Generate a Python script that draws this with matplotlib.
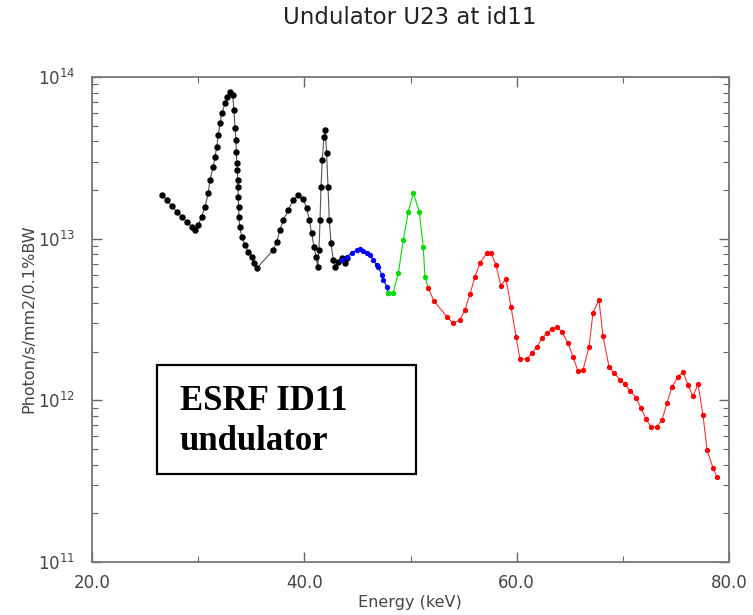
import matplotlib
matplotlib.use("Agg")
import matplotlib.pyplot as plt
from matplotlib.patches import Rectangle
from matplotlib.ticker import FixedLocator, LogLocator, NullFormatter

title = "Undulator U23 at id11"
xlabel = "Energy (keV)"
ylabel = "Photon/s/mm2/0.1%BW"
inset_lines = ["ESRF ID11", "undulator"]

# Energy (keV) and flux (units of 1e12 photon/s/mm2/0.1%BW)
black_e = [26.62, 27.04, 27.51, 27.98, 28.45, 28.92, 29.39, 29.70, 30.01, 30.33,
           30.64, 30.95, 31.11, 31.43, 31.59, 31.75, 31.90, 32.06, 32.22, 32.53,
           32.74, 33.00, 33.25, 33.37, 33.47, 33.56, 33.60, 33.63, 33.69, 33.72,
           33.75, 33.78, 33.81, 33.84, 33.90, 34.10, 34.41, 34.72, 35.04, 35.26,
           35.51, 37.08, 37.40, 37.71, 38.02, 38.49, 38.96, 39.43, 39.90, 40.22,
           40.47, 40.69, 40.91, 41.10, 41.26, 41.38, 41.48, 41.57, 41.69, 41.85,
           41.97, 42.10, 42.23, 42.35, 42.51, 42.73, 42.89, 43.20, 43.52, 43.83,
           44.04]
black_f = [18.62, 17.34, 15.92, 14.69, 13.68, 12.74, 11.86, 11.32, 12.16, 13.68,
           15.78, 19.10, 23.07, 27.86, 32.14, 37.07, 43.75, 51.76, 59.70, 68.71,
           75.51, 81.10, 77.45, 62.52, 48.19, 40.74, 34.51, 29.24, 26.61, 23.07,
           20.99, 18.20, 15.78, 13.68, 11.86, 10.28, 9.14, 8.32, 7.74, 7.05,
           6.56, 8.51, 9.57, 11.32, 13.06, 15.03, 17.34, 18.62, 17.54, 15.42,
           13.06, 10.79, 8.93, 7.74, 6.71, 8.51, 13.06, 20.99, 30.69, 42.76,
           46.99, 33.73, 20.99, 13.06, 9.38, 7.38, 6.71, 7.21, 7.57, 7.05,
           7.57]

blue_e = [43.52, 44.00, 44.45, 44.93, 45.24, 45.55, 45.87, 46.18, 46.50, 46.82,
          46.97, 47.29, 47.44, 47.76, 47.91]
blue_f = [7.38, 7.74, 8.13, 8.51, 8.59, 8.43, 8.18, 7.93, 7.38, 6.87,
          6.71, 5.97, 5.56, 5.05, 4.59]

green_e = [47.91, 48.38, 48.85, 49.32, 49.79, 50.26, 50.83, 51.20, 51.36, 51.68]
green_f = [4.59, 4.63, 6.11, 9.82, 14.69, 19.10, 14.69, 8.93, 5.82, 4.93]

red_e = [51.68, 52.21, 53.41, 54.00, 54.66, 55.13, 55.60, 56.07, 56.55, 57.20,
         57.58, 58.05, 58.52, 58.99, 59.47, 59.94, 60.31, 60.97, 61.44, 61.91,
         62.39, 62.86, 63.33, 63.80, 64.27, 64.83, 65.31, 65.78, 66.25, 66.81,
         67.19, 67.75, 68.13, 68.70, 69.17, 69.73, 70.20, 70.67, 71.24, 71.71,
         72.18, 72.65, 73.22, 73.69, 74.16, 74.63, 75.20, 75.67, 76.14, 76.61,
         77.08, 77.55, 77.93, 78.49, 78.87]
red_f = [4.93, 4.12, 3.30, 3.01, 3.14, 3.62, 4.55, 5.79, 7.08, 8.17,
         8.17, 6.87, 5.11, 5.64, 3.78, 2.47, 1.80, 1.80, 1.96, 2.14,
         2.43, 2.61, 2.77, 2.84, 2.65, 2.26, 1.85, 1.52, 1.54, 2.14,
         3.48, 4.18, 2.50, 1.61, 1.48, 1.34, 1.26, 1.14, 1.04, 0.897,
         0.767, 0.685, 0.685, 0.757, 0.964, 1.21, 1.40, 1.50, 1.24, 1.06,
         1.26, 0.813, 0.493, 0.382, 0.336]

scale = 1e12
x_major = [20, 40, 60, 80]
x_major_labels = ["20.0", "40.0", "60.0", "80.0"]
x_minor = [30, 50, 70]
y_major = [1e11, 1e12, 1e13, 1e14]
y_major_labels = ["$10^{11}$", "$10^{12}$", "$10^{13}$", "$10^{14}$"]

plt.rcParams['font.family'] = ['DejaVu Sans']
plt.rcParams['mathtext.fontset'] = 'custom'
plt.rcParams['mathtext.rm'] = 'DejaVu Sans'
plt.rcParams['mathtext.default'] = 'regular'

W, H = 753, 615
fig = plt.figure(figsize=(W / 100, H / 100), dpi=100)
ax = fig.add_axes([92 / W, 1 - 562 / H, (729 - 92) / W, (562 - 77) / H])

def seg(e, f, color, lc, ms):
    ax.plot(e, [v * scale for v in f], color=lc, lw=0.8, marker='o', ms=ms,
            mfc=color, mec=color, zorder=3)

seg(black_e, black_f, 'black', '#555555', 3.6)
seg(blue_e, blue_f, '#0000ff', '#0000ff', 2.8)
seg(green_e, green_f, '#00dd00', '#00dd00', 2.8)
seg(red_e, red_f, '#ff0000', '#ff3030', 2.8)

ax.set_yscale('log')
ax.set_xlim(20, 80)
ax.set_ylim(1e11, 1e14)
ax.xaxis.set_major_locator(FixedLocator(x_major))
ax.set_xticklabels(x_major_labels)
ax.xaxis.set_minor_locator(FixedLocator(x_minor))
ax.yaxis.set_major_locator(FixedLocator(y_major))
ax.set_yticklabels(y_major_labels)
ax.yaxis.set_minor_locator(LogLocator(base=10, subs=range(2, 10)))
ax.yaxis.set_minor_formatter(NullFormatter())

ax.tick_params(which='both', direction='in', top=True, right=True, colors='#666666',
               labelcolor='#444444')
ax.tick_params(which='major', length=7, width=1.0, labelsize=12)
ax.tick_params(which='minor', length=4, width=0.8)
ax.tick_params(axis='y', which='major', pad=12, labelsize=12)
ax.tick_params(axis='x', which='major', pad=9)
for s in ax.spines.values():
    s.set_color('#777777')
    s.set_linewidth(1.3)

fig.text(410 / W, 1 - 17 / H, title, ha='center', va='center', fontsize=16.5, color='#222222')
fig.text(410 / W, 1 - 603 / H, xlabel, ha='center', va='center', fontsize=11.5, color='#444444')
fig.text(29 / W, 1 - 319 / H, ylabel, ha='center', va='center', rotation=90,
         fontsize=11.5, color='#444444')

ax.add_patch(Rectangle((0.102, 0.181), 0.407, 0.225, transform=ax.transAxes,
                       fill=False, edgecolor='black', lw=1.6, zorder=5))
ax.text(0.138, 0.313, inset_lines[0], transform=ax.transAxes, ha='left', va='baseline',
        fontsize=25, fontweight='bold', family='Liberation Serif', zorder=6)
ax.text(0.138, 0.231, inset_lines[1], transform=ax.transAxes, ha='left', va='baseline',
        fontsize=25, fontweight='bold', family='Liberation Serif', zorder=6)

fig.savefig('out.png', dpi=100)
